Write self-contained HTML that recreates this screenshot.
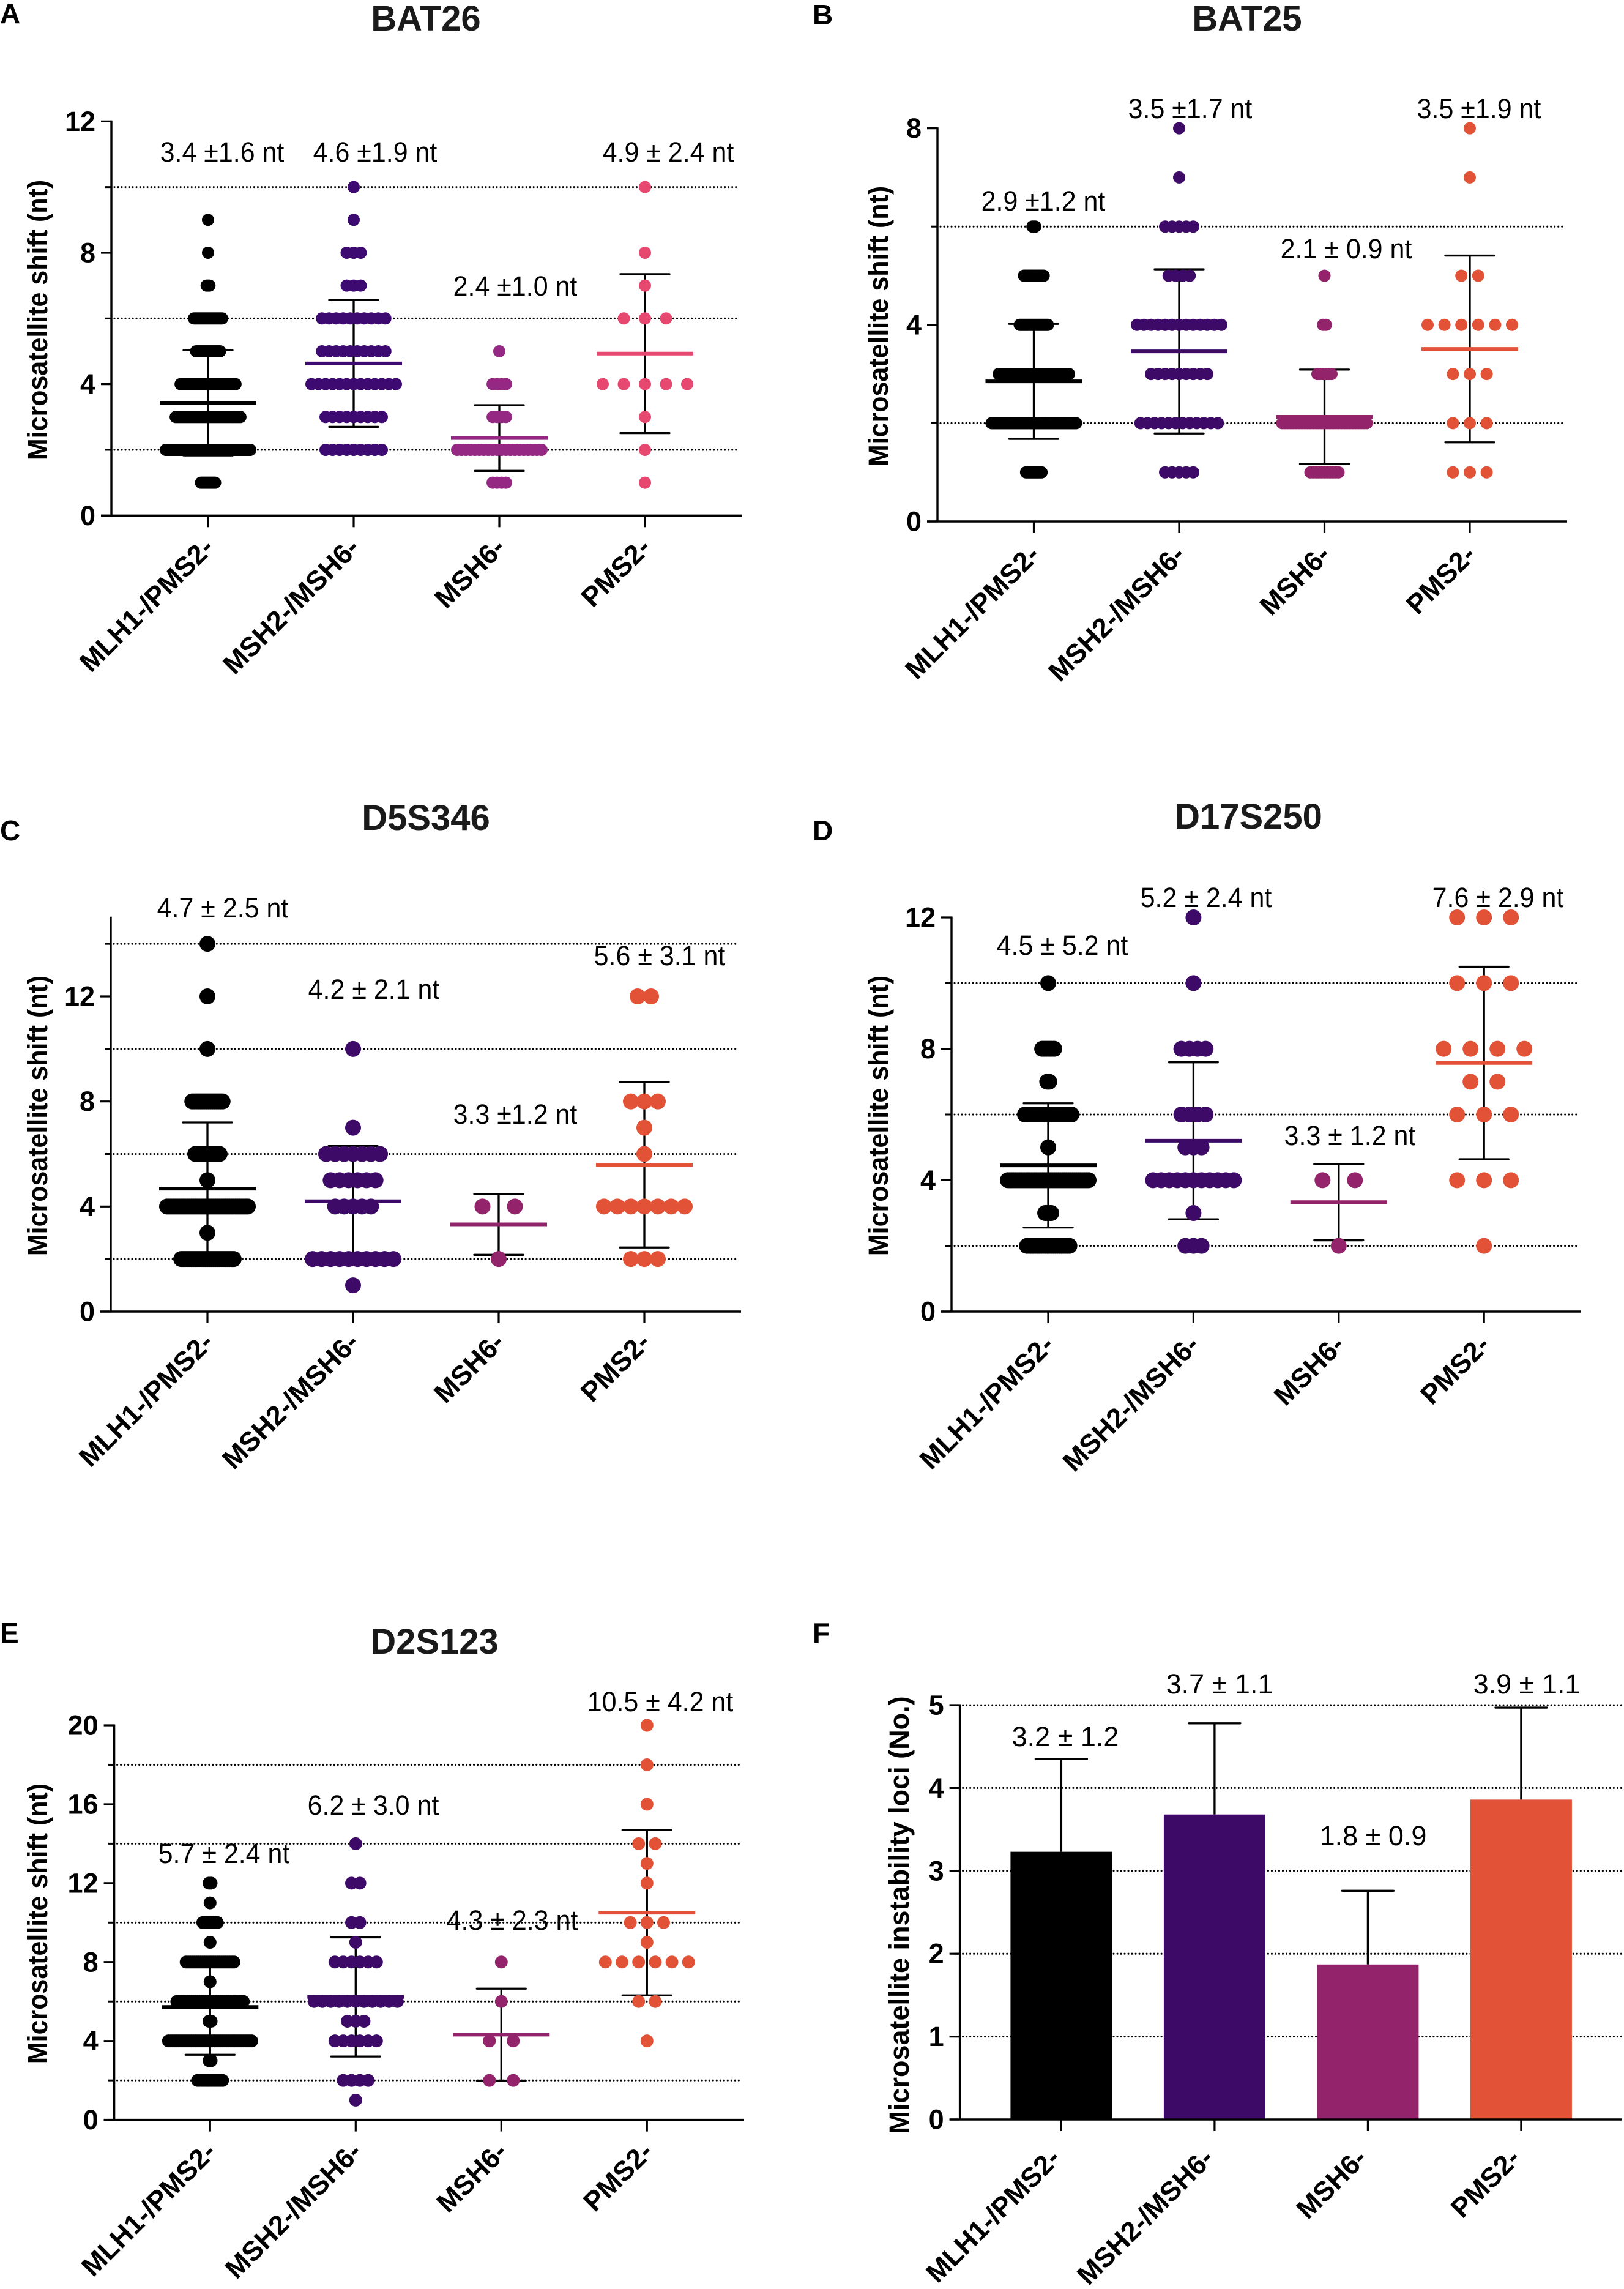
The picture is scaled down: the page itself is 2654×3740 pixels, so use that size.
<!DOCTYPE html>
<html lang="en">
<head>
<meta charset="utf-8">
<title>Microsatellite shift by MMR-deficient group</title>
<style>
html,body{margin:0;padding:0;background:#fff;}
svg{display:block;font-family:"Liberation Sans",sans-serif;}
.letter{font-size:46px;font-weight:700;fill:#000;}
.title{font-size:58px;font-weight:700;fill:#1a1a1a;text-anchor:middle;}
.ytitle{font-size:45px;font-weight:700;fill:#000;text-anchor:middle;}
.note{font-size:45px;fill:#000;text-anchor:middle;transform-box:fill-box;transform-origin:center;transform:scale(.955,1);}
.note-wide{font-size:45px;fill:#000;text-anchor:middle;}
.tick{font-size:45px;font-weight:700;fill:#000;text-anchor:end;}
.cat{font-size:45px;font-weight:700;fill:#000;text-anchor:end;}
</style>
</head>
<body>
<svg id="figure" xmlns="http://www.w3.org/2000/svg" width="2654" height="3740" viewBox="0 0 2654 3740">
<rect x="0" y="0" width="2654" height="3740" fill="#fff"/>

<g id="panel-a"></g>
<g id="panel-b"></g>
<g id="panel-c"></g>
<g id="panel-d"></g>
<g id="panel-e"></g>
<g id="panel-f"></g>

<text class="letter" x="0" y="38">A</text>
<text class="letter" x="1328" y="40">B</text>
<text class="letter" x="0" y="1373">C</text>
<text class="letter" x="1328" y="1373">D</text>
<text class="letter" x="0" y="2684">E</text>
<text class="letter" x="1328" y="2684">F</text>

<text class="title" x="696" y="50">BAT26</text>
<text class="title" x="2038" y="50">BAT25</text>
<text class="title" x="696" y="1356">D5S346</text>
<text class="title" x="2040" y="1354">D17S250</text>
<text class="title" x="710" y="2702">D2S123</text>

<text class="ytitle" transform="translate(77,523) rotate(-90) scale(.955,1)">Microsatellite shift (nt)</text>
<text class="ytitle" transform="translate(1451,533) rotate(-90) scale(.955,1)">Microsatellite shift (nt)</text>
<text class="ytitle" transform="translate(77,1823) rotate(-90) scale(.955,1)">Microsatellite shift (nt)</text>
<text class="ytitle" transform="translate(1451,1823) rotate(-90) scale(.955,1)">Microsatellite shift (nt)</text>
<text class="ytitle" transform="translate(77,3143) rotate(-90) scale(.955,1)">Microsatellite shift (nt)</text>
<text class="ytitle" transform="translate(1485,3129) rotate(-90)">Microsatellite instability loci (No.)</text>

<text class="note" x="363" y="264">3.4 ±1.6 nt</text>
<text class="note" x="613" y="264">4.6 ±1.9 nt</text>
<text class="note" x="842" y="483">2.4 ±1.0 nt</text>
<text class="note" x="1092" y="264">4.9 ± 2.4 nt</text>

<text class="note" x="1705" y="344">2.9 ±1.2 nt</text>
<text class="note" x="1945" y="193">3.5 ±1.7 nt</text>
<text class="note" x="2200" y="422">2.1 ± 0.9 nt</text>
<text class="note" x="2417" y="193">3.5 ±1.9 nt</text>

<text class="note" x="364" y="1499">4.7 ± 2.5 nt</text>
<text class="note" x="611" y="1632">4.2 ± 2.1 nt</text>
<text class="note" x="842" y="1836">3.3 ±1.2 nt</text>
<text class="note" x="1078" y="1577">5.6 ± 3.1 nt</text>

<text class="note" x="1736" y="1560">4.5 ± 5.2 nt</text>
<text class="note" x="1971" y="1482">5.2 ± 2.4 nt</text>
<text class="note" x="2206" y="1871">3.3 ± 1.2 nt</text>
<text class="note" x="2448" y="1482">7.6 ± 2.9 nt</text>

<text class="note" x="366" y="3044">5.7 ± 2.4 nt</text>
<text class="note" x="610" y="2965">6.2 ± 3.0 nt</text>
<text class="note" x="837" y="3153">4.3 ± 2.3 nt</text>
<text class="note" x="1079" y="2796">10.5 ± 4.2 nt</text>

<text class="note-wide" x="1741" y="2853">3.2 ± 1.2</text>
<text class="note-wide" x="1993" y="2767">3.7 ± 1.1</text>
<text class="note-wide" x="2244" y="3015">1.8 ± 0.9</text>
<text class="note-wide" x="2495" y="2767">3.9 ± 1.1</text>
</svg>

<script>
// ---------- Shared categories ----------
const categories = ["MLH1-/PMS2-", "MSH2-/MSH6-", "MSH6-", "PMS2-"];

// ---------- BAT26 ----------
const bat26Levels = [[1,2,3,4,5,6,7,8,9],[2,3,4,5,6,7,8,9,10],[1,2,3,4,5],[1,2,3,4,6,7,8,10]];
const bat26Counts = [[11,61,47,40,18,21,3,1,1],[9,9,13,10,10,3,3,1,1],[4,20,4,4,1],[1,1,1,5,3,1,1,1]];
const bat26Means = [3.43,4.63,2.36,4.93];
const bat26Sds = [1.6,1.93,1.0,2.42];
const bat26YTicks = [0,4,8,12];
const bat26Grid = [2,6,10];

// ---------- BAT25 ----------
const bat25Levels = [[1,2,3,4,5,6],[1,2,3,4,5,6,7,8],[1,2,3,4,5],[1,2,3,4,5,7,8]];
const bat25Counts = [[12,61,51,21,15,3],[5,12,9,13,4,5,1,1],[11,31,6,2,1],[3,3,3,6,2,1,1]];
const bat25Means = [2.85,3.46,2.13,3.51];
const bat25Sds = [1.17,1.67,0.96,1.9];
const bat25YTicks = [0,4,8];
const bat25Grid = [2,6];

// ---------- D5S346 ----------
const d5s346Levels = [[2,3,4,5,6,8,10,12,14],[1,2,4,5,6,7,10],[2,4],[2,4,6,7,8,12]];
const d5s346Counts = [[27,1,41,1,13,16,1,1,1],[1,10,5,6,7,1,1],[1,2],[3,7,1,1,3,2]];
const d5s346Means = [4.68,4.2,3.32,5.59];
const d5s346Sds = [2.52,2.1,1.16,3.15];
const d5s346YTicks = [0,4,8,12];
const d5s346Grid = [2,6,10,14];

// ---------- D17S250 ----------
const d17s250Levels = [[2,3,4,5,6,7,8,10],[2,3,4,5,6,8,10,12],[2,4],[2,4,6,7,8,10,12]];
const d17s250Counts = [[22,4,41,1,24,2,7,1],[3,1,11,3,4,4,1,1],[1,2],[1,3,3,2,4,3,3]];
const d17s250Means = [4.45,5.2,3.33,7.57];
const d17s250Sds = [1.89,2.39,1.16,2.93];
const d17s250YTicks = [0,4,8,12];
const d17s250Grid = [2,6,10];

// ---------- D2S123 ----------
const d2s123Levels = [[2,3,4,5,6,7,8,9,10,11,12],[1,2,4,5,6,8,9,10,12,14],[2,4,6,8],[4,6,8,9,10,12,13,14,16,18,20]];
const d2s123Counts = [[13,2,41,2,33,1,24,1,8,1,2],[1,4,6,3,11,6,1,2,2,1],[2,2,1,1],[1,2,6,1,3,1,1,2,1,1,1]];
const d2s123Means = [5.72,6.23,4.32,10.5];
const d2s123Sds = [2.42,3.02,2.33,4.19];
const d2s123YTicks = [0,4,8,12,16,20];
const d2s123Grid = [2,6,10,14,18];

// ---------- Instability loci bars ----------
const lociMeans = [3.23,3.68,1.87,3.86];
const lociSds = [1.12,1.10,0.89,1.11];
const lociYTicks = [0,1,2,3,4,5];
const lociGrid = [1,2,3,4,5];

const SVG_NS = "http://www.w3.org/2000/svg";
const warmColors = ["#000000","#3d0a68","#93236a","#e25236"];
const pinkColors = ["#000000","#3d0a72","#942883","#e6486f"];

function svgEl(parent, tag, attrs) {
  const el = document.createElementNS(SVG_NS, tag);
  for (const k in attrs) el.setAttribute(k, attrs[k]);
  parent.appendChild(el);
  return el;
}

function drawGrid(g, key, cfg, gridLevels, yScale) {
  gridLevels.forEach(function (v) {
    const line = svgEl(g, "line", {x1: cfg.axisX + 5, x2: cfg.gridEnd, y1: yScale(v), y2: yScale(v), stroke: "#000", "stroke-width": 3.1, "stroke-dasharray": "0.01 6", "stroke-linecap": "round"});
    
    
    const minor = svgEl(g, "line", {x1: cfg.axisX - 10, x2: cfg.axisX, y1: yScale(v), y2: yScale(v), stroke: "#000", "stroke-width": 3});
    
    
  });
}

function drawFrame(g, key, cfg, yTicks, yScale, xScale) {
  const y0 = yScale(0);
  const yAxis = svgEl(g, "line", {x1: cfg.axisX, x2: cfg.axisX, y1: yScale(cfg.yMax) - 1.5, y2: y0 + 1.5, stroke: "#000", "stroke-width": 3.4});
  
  
  const xAxis = svgEl(g, "line", {x1: cfg.axisX - 17, x2: cfg.axisEnd, y1: y0, y2: y0, stroke: "#000", "stroke-width": 3.4});
  
  
  yTicks.forEach(function (v) {
    const t = svgEl(g, "line", {x1: cfg.axisX - 17, x2: cfg.axisX, y1: yScale(v), y2: yScale(v), stroke: "#000", "stroke-width": 3.2});
    
    
    const lab = svgEl(g, "text", {"class": "tick", x: cfg.axisX - 26, y: yScale(v) + 15.5});
    
    
    lab.textContent = String(v);
  });
  categories.forEach(function (c, i) {
    const t = svgEl(g, "line", {x1: xScale(i), x2: xScale(i), y1: y0, y2: y0 + 19, stroke: "#000", "stroke-width": 3.2});
    
    
    const px = xScale(i) + cfg.labelDx, py = y0 + cfg.labelDy;
    const lab = svgEl(g, "text", {"class": "cat", transform: "translate(" + px + "," + py + ") rotate(-45)"});
    
    
    lab.textContent = c;
  });
}

function drawErrorBar(g, key, i, x, yTop, yBottom, capHalf) {
  const stem = svgEl(g, "line", {x1: x, x2: x, y1: yTop, y2: yBottom, stroke: "#000", "stroke-width": 3.3});
  
  
  const top = svgEl(g, "line", {x1: x - capHalf, x2: x + capHalf, y1: yTop, y2: yTop, stroke: "#000", "stroke-width": 3.3, "stroke-linecap": "round"});
  
  
}

function drawScatterPanel(id, key, cfg, levels, counts, means, sds, yTicks, gridLevels) {
  const g = document.getElementById(id);
  const yScale = function (v) { return cfg.y0 - (v / cfg.yTop) * (cfg.y0 - cfg.yTopPx); };
  const xScale = function (i) { return cfg.x0 + i * cfg.dx; };
  drawGrid(g, key, cfg, gridLevels, yScale);
  categories.forEach(function (c, i) {
    const color = cfg.colors[i];
    const x = xScale(i);
    const yUp = yScale(means[i] + sds[i]), yDn = yScale(means[i] - sds[i]);
    drawErrorBar(g, key, i, x, yUp, yDn, 40);
    const low = svgEl(g, "line", {x1: x - 40, x2: x + 40, y1: yDn, y2: yDn, stroke: "#000", "stroke-width": 3.3, "stroke-linecap": "round"});
    
    
    const maxCount = Math.max.apply(null, counts[i]);
    const step = maxCount > 1 ? Math.min(cfg.maxStep, 2 * cfg.spread / (maxCount - 1)) : 0;
    levels[i].forEach(function (level, r) {
      const n = counts[i][r];
      for (let k = 0; k < n; k++) {
        const dot = svgEl(g, "circle", {cx: x + (k - (n - 1) / 2) * step, cy: yScale(level), r: cfg.r, fill: color});
        
        
      }
    });
    const mean = svgEl(g, "line", {x1: x - 79, x2: x + 79, y1: yScale(means[i]), y2: yScale(means[i]), stroke: color, "stroke-width": 6});
    
    
  });
  drawFrame(g, key, cfg, yTicks, yScale, xScale);
}

function drawBarPanel(id, key, cfg, means, sds, yTicks, gridLevels) {
  const g = document.getElementById(id);
  const yScale = function (v) { return cfg.y0 - (v / cfg.yTop) * (cfg.y0 - cfg.yTopPx); };
  const xScale = function (i) { return cfg.x0 + i * cfg.dx; };
  drawGrid(g, key, cfg, gridLevels, yScale);
  categories.forEach(function (c, i) {
    const x = xScale(i);
    drawErrorBar(g, key, i, x, yScale(means[i] + sds[i]), yScale(means[i]), 42);
    const bar = svgEl(g, "rect", {x: x - 83, width: 166, y: yScale(means[i]), height: yScale(0) - yScale(means[i]), fill: cfg.colors[i]});
    
    
  });
  drawFrame(g, key, cfg, yTicks, yScale, xScale);
}

drawScatterPanel("panel-a", "bat26",
  {x0: 340, dx: 238, y0: 842.3, yTopPx: 198.3, yTop: 12, yMax: 12, axisX: 182, axisEnd: 1212, gridEnd: 1208, r: 10, spread: 69, maxStep: 53, colors: pinkColors, labelDx: 12, labelDy: 55},
  bat26Levels, bat26Counts, bat26Means, bat26Sds, bat26YTicks, bat26Grid);

drawScatterPanel("panel-b", "bat25",
  {x0: 1689.5, dx: 237.5, y0: 852, yTopPx: 209.6, yTop: 8, yMax: 8, axisX: 1532, axisEnd: 2561, gridEnd: 2556, r: 10, spread: 69, maxStep: 53, colors: warmColors, labelDx: 12, labelDy: 57},
  bat25Levels, bat25Counts, bat25Means, bat25Sds, bat25YTicks, bat25Grid);

drawScatterPanel("panel-c", "d5s346",
  {x0: 339, dx: 238, y0: 2143, yTopPx: 1628, yTop: 12, yMax: 15, axisX: 181, axisEnd: 1211, gridEnd: 1206, r: 13, spread: 66, maxStep: 53, colors: warmColors, labelDx: 12, labelDy: 53},
  d5s346Levels, d5s346Counts, d5s346Means, d5s346Sds, d5s346YTicks, d5s346Grid);

drawScatterPanel("panel-d", "d17s250",
  {x0: 1713, dx: 237.4, y0: 2143, yTopPx: 1499, yTop: 12, yMax: 12, axisX: 1555, axisEnd: 2584, gridEnd: 2580, r: 13, spread: 66, maxStep: 53, colors: warmColors, labelDx: 12, labelDy: 57},
  d17s250Levels, d17s250Counts, d17s250Means, d17s250Sds, d17s250YTicks, d17s250Grid);

drawScatterPanel("panel-e", "d2s123",
  {x0: 343.3, dx: 238, y0: 3463.6, yTopPx: 2819, yTop: 20, yMax: 20, axisX: 186.6, axisEnd: 1216, gridEnd: 1212, r: 10.5, spread: 68, maxStep: 39, colors: warmColors, labelDx: 12, labelDy: 55},
  d2s123Levels, d2s123Counts, d2s123Means, d2s123Sds, d2s123YTicks, d2s123Grid);

drawBarPanel("panel-f", "loci",
  {x0: 1734.4, dx: 250.5, y0: 3463, yTopPx: 2786, yTop: 5, yMax: 5, axisX: 1568.6, axisEnd: 2651, gridEnd: 2651, colors: warmColors, labelDx: 1, labelDy: 66},
  lociMeans, lociSds, lociYTicks, lociGrid);
</script>
</body>
</html>
